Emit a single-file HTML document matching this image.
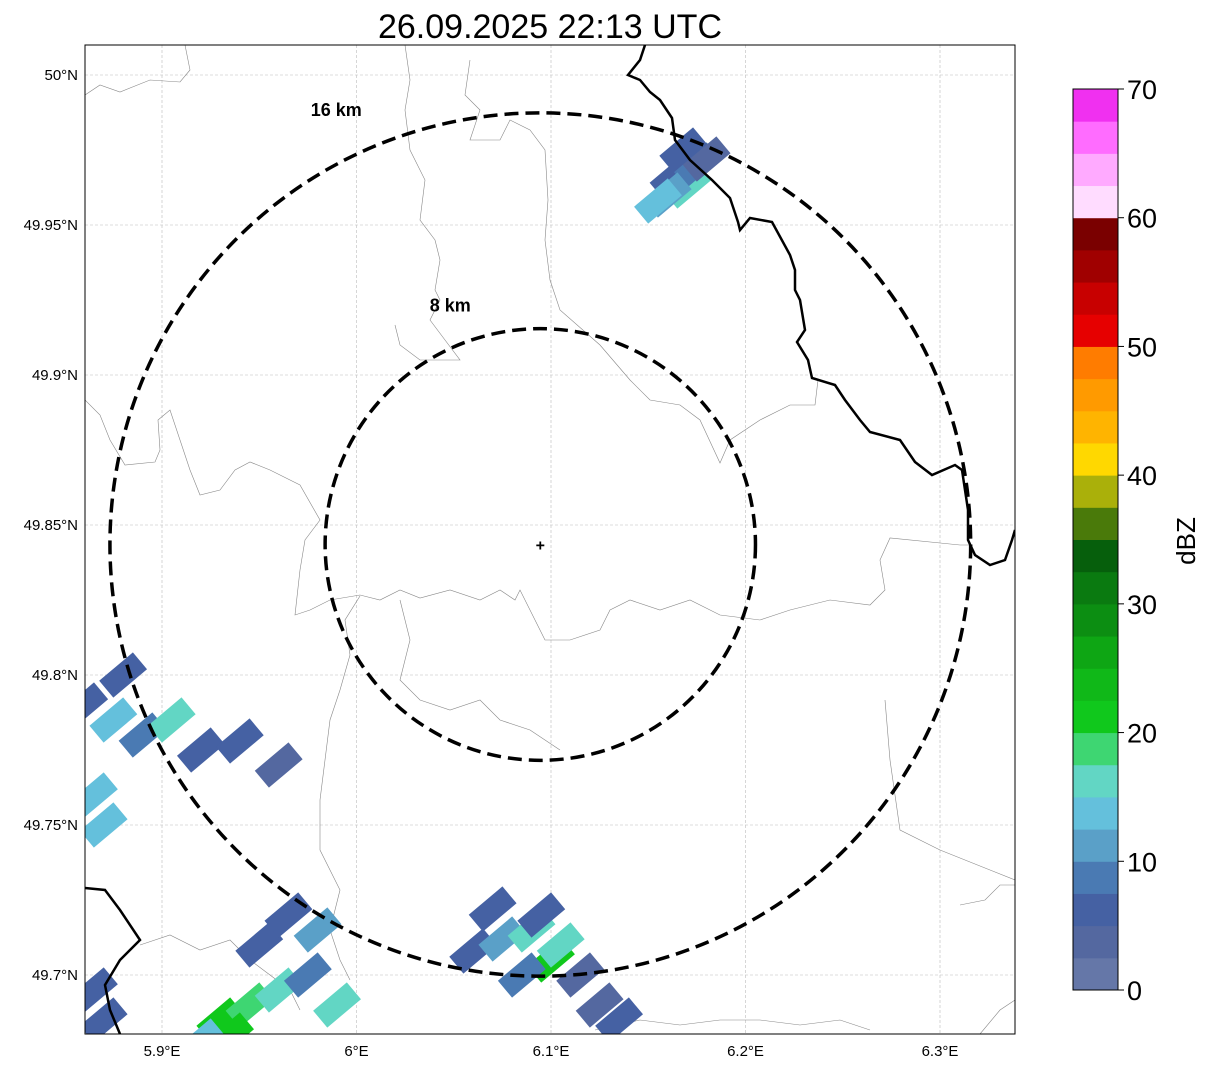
<!DOCTYPE html>
<html><head><meta charset="utf-8"><style>
html,body{margin:0;padding:0;background:#fff;}
svg{display:block;font-family:"Liberation Sans",sans-serif;}
</style></head><body>
<svg id="chart" width="1207" height="1069" viewBox="0 0 1207 1069">
<defs><clipPath id="mapclip"><rect x="85" y="45" width="930" height="989"/></clipPath></defs>
<text x="550" y="38" font-size="34" text-anchor="middle">26.09.2025 22:13 UTC</text>
<g id="grid"></g>
<g id="map" clip-path="url(#mapclip)">
<g id="borders"></g>
<g id="cells"></g>
<g id="country"></g>
</g>
<g id="rings"></g>
<rect x="85" y="45" width="930" height="989" fill="none" stroke="#000" stroke-width="1"/>
<g id="axes"></g>
<g id="cbar"></g>
<text x="1195" y="541" font-size="26" text-anchor="middle" transform="rotate(-90 1195 541)">dBZ</text>
</svg>
<script>
const lonTicks=[5.9,6.0,6.1,6.2,6.3];
const lonLabels=["5.9°E","6°E","6.1°E","6.2°E","6.3°E"];
const latTicks=[50.0,49.95,49.9,49.85,49.8,49.75,49.7];
const latLabels=["50°N","49.95°N","49.9°N","49.85°N","49.8°N","49.75°N","49.7°N"];
const center=[6.0945,49.8435];
const ringKm=[8,16];
const cbarTicks=[0,10,20,30,40,50,60,70];
const cbarColors=["#6577a8","#5468a0","#4561a3","#4a7ab3","#5aa0c8","#64c0dc","#62d6c4","#3ed672","#10c81c","#10b818","#0ea614","#0c8e12","#0a7a10","#065f0c","#4a7a0a","#aab00a","#ffd800","#ffb400","#ff9a00","#ff7c00","#e60000","#c80000","#a00000","#7a0000","#ffdcff","#ffaaff","#ff6cff","#f030f0"];
// radar cells: lon, lat, dBZ
const cellLon=[6.163,6.170,6.175,6.160,6.180,6.155,6.168,
5.860,5.875,5.890,5.905,5.920,5.940,5.960,5.865,5.870,5.880,
6.060,6.075,6.090,6.100,6.085,6.095,6.105,6.115,6.070,6.125,6.135,
5.930,5.945,5.960,5.975,5.950,5.965,5.980,5.990,5.935,5.920,
5.865,5.870];
const cellLat=[49.966,49.963,49.970,49.960,49.972,49.958,49.975,
49.790,49.785,49.780,49.785,49.775,49.778,49.770,49.760,49.750,49.800,
49.708,49.712,49.715,49.705,49.700,49.720,49.710,49.700,49.722,49.690,49.685,
49.685,49.690,49.695,49.700,49.710,49.720,49.715,49.690,49.680,49.678,
49.695,49.685];
const cellDbz=[5,16,8,12,4,13,6,
6,14,8,15,5,7,4,14,13,7,
6,12,16,20,8,6,15,3,5,4,5,
22,18,15,8,6,5,12,17,20,14,
5,7];
const xs=lon=>162+(lon-5.9)*1945;
const ys=lat=>75+(50.0-lat)*3000;
const NS="http://www.w3.org/2000/svg";
function mk(tag,attrs,parent){const e=document.createElementNS(NS,tag);for(const k in attrs)e.setAttribute(k,attrs[k]);parent.appendChild(e);return e;}
const grid=document.getElementById('grid'),axes=document.getElementById('axes');
lonTicks.forEach((v,i)=>{const x=xs(v);
const l=mk('line',{x1:x,x2:x,y1:45,y2:1034,stroke:'#bbb','stroke-width':0.6,'stroke-dasharray':'3,2'},grid);

const t=mk('text',{x:x,y:1056,'font-size':15,'text-anchor':'middle'},axes);t.textContent=lonLabels[i];
});
latTicks.forEach((v,i)=>{const y=ys(v);
const l=mk('line',{x1:85,x2:1015,y1:y,y2:y,stroke:'#bbb','stroke-width':0.6,'stroke-dasharray':'3,2'},grid);

const t=mk('text',{x:78,y:y+5,'font-size':15,'text-anchor':'end'},axes);t.textContent=latLabels[i];
});
const thin=["85,95 100,85 120,92 150,80 180,82 190,70 185,45","85,400 100,415 110,440 125,465 155,462 160,450 158,420 170,410 180,440 190,470 200,495 220,490 235,470 250,462 270,470 300,485 320,520 305,540 300,570 295,615 310,610 330,600 360,595 380,600 400,590 420,598 450,590 480,600 500,590 515,600 520,590 535,620 545,640 570,640 600,630 610,610 630,600 660,610 690,600 720,615 760,620 790,610 830,600 870,605 885,590 880,560 890,538 960,545 970,545","405,45 410,80 405,110 410,150 425,180 420,220 435,240 440,260 435,290 440,300 430,320 445,340 460,360 420,360 400,345 395,325","470,60 465,95 480,110 470,140 500,140 510,120 530,130 545,150 548,200 545,240 550,280 560,310 600,345 630,380 650,400 680,405 700,420 720,463 730,440 760,420 790,405 815,405 818,380","360,596 345,620 350,655 340,690 330,720 325,760 320,800 320,850 340,890 330,930 340,960 350,980","400,600 410,640 400,680 420,700 450,710 480,700 500,720 530,730 560,750","885,700 890,760 900,830 940,850 990,870 1015,880","960,905 985,900 1000,885 1015,885","595,1030 640,1020 680,1025 720,1020 760,1020 800,1025 840,1020 870,1030","140,945 170,935 200,950 230,940 250,960 270,975 290,990 300,1010","980,1034 1000,1010 1015,1000"];
const bd=document.getElementById('borders');
thin.forEach(p=>{const e=mk('polyline',{points:p,fill:'none',stroke:'#888','stroke-width':0.6},bd);});
const thick=["645,45 640,60 628,75 640,80 650,92 660,100 672,118 675,140 690,160 712,180 730,198 738,222 740,230 750,218 772,222 790,255 795,270 795,290 800,300 805,330 797,342 808,360 812,378 835,385 845,400 860,420 870,432 900,440 915,462 932,475 955,465 962,470 968,510 968,540 975,555 990,565 1005,560 1012,540 1015,530","85,888 105,890 120,910 140,940 120,960 105,985 110,1010 120,1034"];
const ct=document.getElementById('country');
thick.forEach(p=>{const e=mk('polyline',{points:p,fill:'none',stroke:'#000','stroke-width':2.5},ct);});
const cg=document.getElementById('cells');
const colorFor=d=>cbarColors[Math.max(0,Math.min(27,Math.floor(d/2.5)))];
cellLon.forEach((lon,i)=>{const x=xs(lon),y=ys(cellLat[i]);
const r=mk('rect',{x:x-22,y:y-11,width:44,height:22,fill:colorFor(cellDbz[i]),transform:`rotate(-40 ${x} ${y})`},cg);
});
const rg=document.getElementById('rings');
const cx=xs(center[0]),cy=ys(center[1]);
ringKm.forEach(k=>{const ry=k/111.2*3000,rx=ry*0.997;
const e=mk('ellipse',{cx:cx,cy:cy,rx:rx,ry:ry,fill:'none',stroke:'#000','stroke-width':3.5,'stroke-dasharray':'14,7'},rg);

const t=mk('text',{x:cx-(k===8?90:204),y:cy-ry+(k===8?-17:3),'font-size':18,'font-weight':'bold','text-anchor':'middle'},rg);t.textContent=k+' km';
});
const m=mk('text',{x:cx,y:cy+6,'font-size':16,'font-weight':'bold','text-anchor':'middle'},rg);m.textContent='+';

const cb=document.getElementById('cbar');
const cy0=990,cy1=89,cbv=v=>cy0-(v/70)*(cy0-cy1);
cbarColors.forEach((c,i)=>{const y1=cbv((i+1)*2.5),y0=cbv(i*2.5);
const r=mk('rect',{x:1073,y:y1,width:45,height:y0-y1+0.5,fill:c},cb);
});
mk('rect',{x:1073,y:cy1,width:45,height:cy0-cy1,fill:'none',stroke:'#000','stroke-width':1},cb);
cbarTicks.forEach(v=>{const y=cbv(v);mk('line',{x1:1118,x2:1124,y1:y,y2:y,stroke:'#000'},cb);
const t=mk('text',{x:1127,y:y+10,'font-size':27},cb);t.textContent=v;
});
</script>
</body></html>
